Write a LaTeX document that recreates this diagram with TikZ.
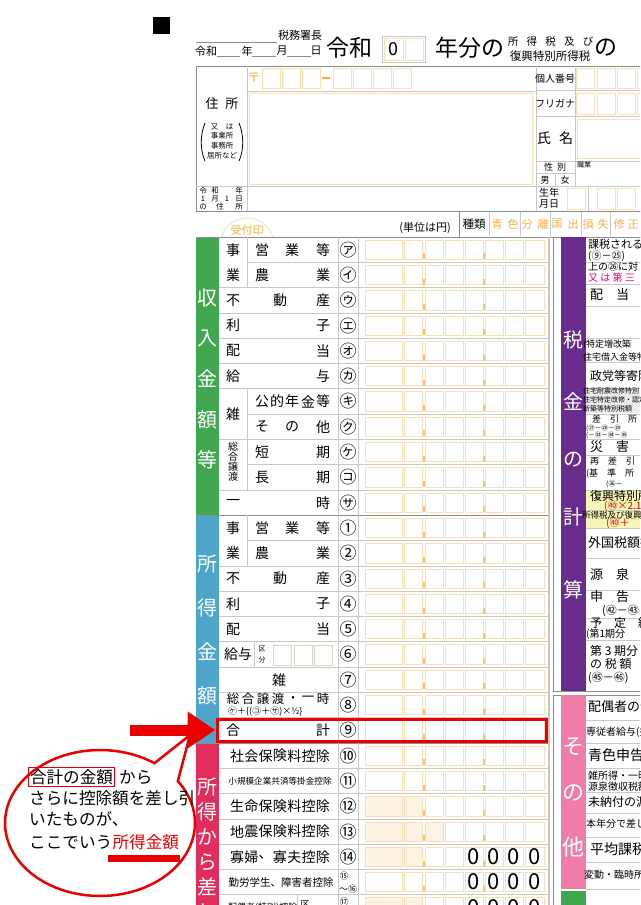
\documentclass[tikz,border=0pt]{standalone}
\usepackage{fontspec}
\setmainfont{Noto Sans CJK JP}
\usetikzlibrary{arrows.meta,positioning}
\definecolor{bandgreen}{RGB}{64,166,79}
\definecolor{bandblue}{RGB}{77,166,202}
\definecolor{bandred}{RGB}{226,45,92}
\definecolor{bandpurple}{RGB}{104,44,140}
\definecolor{bandpink}{RGB}{240,124,168}
\definecolor{boxorange}{RGB}{252,222,178}
\definecolor{shadeorange}{RGB}{253,243,226}
\definecolor{tickorange}{RGB}{246,196,120}
\definecolor{textorange}{RGB}{246,176,70}
\definecolor{linegray}{RGB}{200,200,200}
\definecolor{framegray}{RGB}{140,140,140}
\definecolor{rowyellow}{RGB}{246,246,180}
\definecolor{notered}{RGB}{235,0,0}
\definecolor{magentatext}{RGB}{230,0,126}
\newcommand\fsz[1]{\fontsize{#1}{#1}\selectfont}
\tikzset{
  lbl/.style={inner sep=0pt, font=\fsz{14}},
  sml/.style={inner sep=0pt, font=\fsz{#1}},
  rtxt/.style={anchor=west, inner sep=0pt, font=\fsz{#1}},
  circ/.style={inner sep=0pt, font=\fsz{17}},
  bandtxt/.style={inner sep=0pt, text=white, font=\fsz{20}},
  rowline/.style={draw=linegray, line width=0.8},
  frame/.style={draw=framegray, line width=1},
  amtbox/.style={draw=boxorange, line width=0.7},
  shadebox/.style={amtbox, fill=shadeorange},
  zero/.style={inner sep=0pt, font=\fsz{22}},
  bubble/.style={draw=notered, fill=white, line width=2.5},
  says/.style={anchor=west, inner sep=0pt, font=\fsz{16.6}}
}
\begin{document}
\begin{tikzpicture}[x=1pt,y=-1pt]
  \fill[white] (0,0) rectangle (640,905);
  \clip (0,0) rectangle (640,905);
  % heading
  \fill (153,17) rectangle (170,34);
  \draw[framegray] (196,42) -- (277,42);
  \node[sml=11] (office) at (300,35) {税務署長};
  \node[sml=11] (dateera) at (206,51) {令和};
  \node[sml=11] (dateyr) at (247,51) {年};
  \node[sml=11] (datemo) at (282,51) {月};
  \node[sml=11] (dateday) at (316,51) {日};
  \foreach \xa/\xb in {217/240,252/276,287/311}
    \draw[framegray] (\xa,56) -- (\xb,56);
  \node[sml=23] (era) at (349,48) {令和};
  \draw[linegray] (382,36) rectangle (425,62);
  \draw[amtbox] (384,38) rectangle (403,60);
  \draw[amtbox] (405,38) rectangle (423,60);
  \node[sml=18] (yearno) at (393.5,49) {0};
  \node[sml=23] (bunno) at (470,48) {年分の};
  \foreach \t [count=\k] in {所,得,税,及,び}
    \node[sml=10.5] (taxa\k) at (513+18.75*\k-18.75,41.5) {\t};
  \node[sml=11.5] (taxb) at (550,56) {復興特別所得税};
  \node[sml=23] (tailno) at (606,48) {の};

  % address block
  \draw[frame] (196,66) rectangle (660,211);
  \draw[rowline] (247,66) -- (247,211);
  \draw[rowline] (247,91) -- (536,91);
  \draw[rowline] (196,186) -- (660,186);
  \draw[rowline] (536,66) -- (536,211);
  \node[sml=13,text=textorange] (post) at (254,78) {〒};
  \foreach \xa in {262,282,302,333,353,373,393}
    \draw[amtbox] (\xa,68) rectangle (\xa+18,88);
  \draw[textorange,line width=1.2] (322,78) -- (330,78);
  \draw[amtbox] (249,93) rectangle (532,184);
  \node[sml=13] (addr) at (222,104) {住\hspace{7pt}所};
  \foreach \y/\t [count=\k] in {127/又　は,136/事業所,146/事務所,156/居所など}
    \node[sml=7.5] (addrsub\k) at (222,\y) {\t};
  \draw[line width=0.8] (205,123) .. controls (200,135) and (200,150) .. (205,161);
  \draw[line width=0.8] (239,123) .. controls (244,135) and (244,150) .. (239,161);
  \foreach \x/\y/\t [count=\k] in {203/191/令,215/191/和,239/191/年,203/199/1,215/199/月,227/199/1,239/199/日,203/207/の,220/207/住,239/207/所}
    \node[sml=7.5] (jan\k) at (\x,\y) {\t};
  \draw[rowline] (536,90) -- (660,90);
  \draw[rowline] (536,116) -- (660,116);
  \draw[rowline] (536,161) -- (660,161);
  \draw[rowline] (536,173) -- (575,173);
  \draw[rowline] (575,66) -- (575,186);
  \draw[rowline] (555,173) -- (555,186);
  \draw[rowline] (588,186) -- (588,211);
  \node[sml=10] (mynum) at (555,79) {個人番号};
  \node[sml=10] (kana) at (555,104) {フリガナ};
  \node[sml=14] (name) at (555,138) {氏\hspace{8pt}名};
  \node[sml=9] (sex) at (555,167) {性\hspace{4pt}別};
  \node[sml=9] (male) at (545,180) {男};
  \node[sml=9] (female) at (565,180) {女};
  \node[sml=7] (job) at (584,165) {職業};
  \node[sml=10] (birtha) at (549,193) {生年};
  \node[sml=10] (birthb) at (549,204) {月日};
  \foreach \xa in {576,597,617,637}{
    \draw[amtbox] (\xa,68) rectangle (\xa+18,88);
    \draw[amtbox] (\xa,93) rectangle (\xa+18,114);
  }
  \draw[amtbox] (577,119) rectangle (660,158);
  \foreach \xa in {567,597,617}
    \draw[amtbox] (\xa,188) rectangle (\xa+18,209);

  % stamp, unit, kind
  \begin{scope}
    \clip (200,212) rectangle (300,236);
    \draw[boxorange,line width=0.8] (247,245) circle (27);
  \end{scope}
  \node[sml=11,text=textorange] (stamp) at (247,230) {受付印};
  \node[sml=11] (unit) at (425,228) {(単位は円)};
  \draw[frame] (459,211) rectangle (660,237);
  \foreach \xa in {489,520,550,581,610}
    \draw[rowline] (\xa,212) -- (\xa,236);
  \node[sml=11.5] (kind) at (474,224) {種類};
  \foreach \x/\t [count=\k] in {497/青,513/色,527/分,543/離,557/国,573/出,588/損,603/失,619/修,633/正}
    \node[sml=11,text=textorange] (kind\k) at (\x,224) {\t};

  % left table
  \fill[bandgreen] (196,237) rectangle (219,515.3);
  \fill[bandblue] (196,515.3) rectangle (219,743);
  \fill[bandred] (196,743) rectangle (219,905);
  \foreach \r in {2,3,4,5,6,8,10,13,14,15,16,17,18,19,21,22,23,24,25,26}
    \draw[rowline] (219,237+25.3*\r) -- (549,237+25.3*\r);
  \foreach \r in {1,7,9,12}
    \draw[rowline] (247,237+25.3*\r) -- (549,237+25.3*\r);
  \foreach \r in {11,20}
    \draw[frame] (196,237+25.3*\r) -- (549,237+25.3*\r);
  \draw[frame] (196,237) -- (549,237);
  \draw[rowline] (338,237) -- (338,905);
  \draw[rowline] (358,237) -- (358,905);
  \draw[linegray,line width=1.6] (549,237) -- (549,905);
  \foreach \ya/\yb in {237/287.6,388.8/439.4,439.4/490,515.3/565.9}
    \draw[rowline] (247,\ya) -- (247,\yb);
  \draw[rowline] (254,641.8) -- (254,667.1);
  \draw[rowline] (297,894.8) -- (297,905);

  % amount boxes
  \foreach \r in {0,...,26}{
    \pgfmathsetmacro\yt{237+25.3*\r+3}
    \pgfmathsetmacro\yb{237+25.3*\r+22.3}
    \foreach \xa/\xb in {365/402,404/422,425/443,445/463,465/483,485/503,505/523,525/544}
      \draw[amtbox] (\xa,\yt) rectangle (\xb,\yb);
    \draw[tickorange,line width=1.3] (424,\yb-6) -- (424,\yb);
    \draw[tickorange,line width=1.3] (484,\yb-6) -- (484,\yb);
  }
  \foreach \r/\xa/\xb in {22/365/402,22/404/422,23/365/402,23/404/422,23/425/443,24/365/402,24/404/422,26/365/402,26/404/422}
    \draw[shadebox] (\xa,237+25.3*\r+3) rectangle (\xb,237+25.3*\r+22.3);
  \foreach \r in {24,25,26}
    \foreach \xc [count=\k] in {474,494,514,534.5}
      \node[zero] (z\r-\k) at (\xc,237+25.3*\r+12.6) {0};

  % band titles
  \foreach \t [count=\k from 0] in {収,入,金,額,等}
    \node[bandtxt] (inc\k) at (207.5,298+40.5*\k) {\t};
  \foreach \t [count=\k from 0] in {所,得,金,額}
    \node[bandtxt] (amt\k) at (207.5,564+44*\k) {\t};
  \foreach \t [count=\k from 0] in {所,得,か,ら,差,し}
    \node[bandtxt] (ded\k) at (207.5,787+25*\k) {\t};

  % row labels
  \foreach \y/\a/\b [count=\k] in {249.7/事/等,275.0/業/業,300.3/不/産,325.6/利/子,350.9/配/当,376.2/給/与,502.7/一/時,528.0/事/等,553.3/業/業,578.6/不/産,603.9/利/子,629.2/配/当,730.4/合/計}{
    \node[lbl] (la\k) at (233,\y) {\a};
    \node[lbl] (lb\k) at (323,\y) {\b};
  }
  \foreach \x/\y/\t [count=\k] in {262/249.7/営,292/249.7/業,262/275.0/農,280/300.3/動,262/401.5/公,277/401.5/的,292/401.5/年,308/401.5/金,323/401.5/等,262/426.8/そ,292/426.8/の,323/426.8/他,262/452.1/短,323/452.1/期,262/477.4/長,323/477.4/期,233/414.1/雑,262/528.0/営,292/528.0/業,262/553.3/農,280/578.6/動,279/679.8/雑}
    \node[lbl] (lm\k) at (\x,\y) {\t};
  \foreach \t [count=\k from 0] in {総,合,譲,渡}
    \node[sml=10] (joto\k) at (233,447+10*\k) {\t};
  \node[sml=14] (kyuyo) at (238,654.5) {給与};
  \node[sml=7] (kua) at (262,649) {区};
  \node[sml=7] (kub) at (262,660) {分};
  \foreach \xa in {273,294,314}
    \draw[draw=linegray!60!boxorange,line width=0.7] (\xa,645) rectangle (\xa+18,665);
  \foreach \t [count=\k from 0] in {総,合,譲,渡,・,一,時}
    \node[sml=12.5] (sj\k) at (233+15*\k,699) {\t};
  \node[sml=9,anchor=west] (sjf) at (228,712) {㋘＋\{(㋙＋㋚)×½\}};
  \foreach \y/\lst in {755.7/{社,会,保,険,料,控,除},806.3/{生,命,保,険,料,控,除},831.6/{地,震,保,険,料,控,除},856.9/{寡,婦,、,寡,夫,控,除}}
    \foreach \t [count=\k from 0] in \lst
      \node[lbl] (d\y-\k) at (237+14.33*\k,\y) {\t};
  \node[sml=8.6] (smallco) at (280,781) {小規模企業共済等掛金控除};
  \node[sml=10.5] (worker) at (281,882.2) {勤労学生、障害者控除};
  \node[sml=9,anchor=west] (spouse) at (228,907.5) {配偶者(特別)控除};
  \node[sml=9] (spousek) at (305,904) {区};

  % circled marks
  \foreach \c [count=\k from 0] in {㋐,㋑,㋒,㋓,㋔,㋕,㋖,㋗,㋘,㋙,㋚,①,②,③,④,⑤,⑥,⑦,⑧,⑨,⑩,⑪,⑫,⑬,⑭}
    \node[circ] (n\k) at (348,249.65+25.3*\k) {\c};
  \node[sml=9] (n15) at (344,876) {⑮};
  \node[sml=9] (n16) at (348,889) {～⑯};
  \node[sml=9] (n17) at (344,902) {⑰};

  % right table
  \draw[frame] (553,237) rectangle (660,691);
  \draw[frame] (553,695) rectangle (660,910);
  \fill[bandpurple] (561,237) rectangle (586,691);
  \fill[bandpink] (561,695) rectangle (586,889);
  \fill[bandgreen] (561,891) rectangle (586,905);
  \fill[rowyellow] (586,490) rectangle (660,528);
  \fill[black!8] (586,389) rectangle (660,413);
  \foreach \y in {262,284,306,338,362,388,414,439,455,490,510,528,558,590,618,640,720,743,768,792,813,837,862,889}
    \draw[rowline] (586,\y) -- (660,\y);
  \foreach \t/\y [count=\k] in {税/340,金/402,の/460,計/517,算/590}
    \node[bandtxt] (tax\k) at (573.5,\y) {\t};
  \foreach \t/\y [count=\k] in {そ/747,の/793,他/847}
    \node[bandtxt,font=\fsz{22}] (oth\k) at (573.5,\y) {\t};
  \foreach \x/\y/\s/\t [count=\k] in {588/244/11/課税される所,588/256/10/(⑨－㉕),588/267/10/上の㉖に対,590/295/13/配　当　控,583/345/9/(特定増改築,583/357/9/住宅借入金等特別,590/376/12/政党等寄附金,583/391/7/住宅耐震改修特別,583/400/7/住宅特定改修・認定,583/409/7/新築等特別税額,592/419/9/差　引　所　得,586/428/6.5/(㉗－㉘－㉙,586/435.5/6.5/(－㉝－㉞－㉟,590/447/13/災　害　減,590/461/9/再　差　引　所,586/474/9/(基　準　所　得,606/484/7/(㊱－,590/496/12/復興特別所,582/515/8.5/所得税及び復興,588/543/13/外国税額控除,590/575/13/源　泉　徴　収,590/597/13/申　告　納,602/611/11/(㊷－㊸,590/623/12/予　定　納,586/634/10/(第1期分,590/651/12/第 3 期分,590/664/12/の 税 額,588/678/11/(㊺－㊻),588/707/13/配偶者の合計,586/732/10/専従者給与(控除),588/755/14/青色申告特別,588/776/10/雑所得・一時,588/787/10/源泉徴収税額,588/802/12/未納付の源泉,586/824/10/本年分で差し引く,590/849/14/平均課税対象,584/875/10/変動・臨時所得}
    \node[rtxt=\s] (rt\k) at (\x,\y) {\t};
  \node[rtxt=10,text=magentatext] (rtm) at (588,278) {又 は 第 三};
  \node[rtxt=10,text=notered] (rtr1) at (604,506) {(㊵×2.1};
  \node[rtxt=10,text=notered] (rtr2) at (606,523.5) {(㊵＋};

  % callout
  \node[draw=notered,line width=3,minimum width=329,minimum height=22,inner sep=0pt] (totalbox) at (381.5,730) {};
  \coordinate (tailtip) at (190,735);
  \draw[bubble] (tailtip) -- plot[domain=-35:305,samples=90] ({100+95*cos(\x)},{823+73*sin(\x)}) -- cycle;
  \coordinate (arrowstart) at (130,730);
  \draw[notered,line width=11,-{Triangle[length=28pt,width=35pt]}] (arrowstart) -- (totalbox.west);
  \node[says,draw=notered,line width=1,inner sep=1.5pt] (bt1) at (28,777) {合計の金額};
  \node[says,right=4pt of bt1] (bt1b) {から};
  \node[says] (bt2) at (29,798) {さらに控除額を差し引};
  \node[says] (bt3) at (29,819) {いたものが、};
  \node[says] (bt4) at (29,842) {ここでいう};
  \node[says,right=0pt of bt4,text=notered] (bt4b) {所得金額};
  \fill[notered] (108,855) rectangle (180,862);
\end{tikzpicture}
\end{document}
